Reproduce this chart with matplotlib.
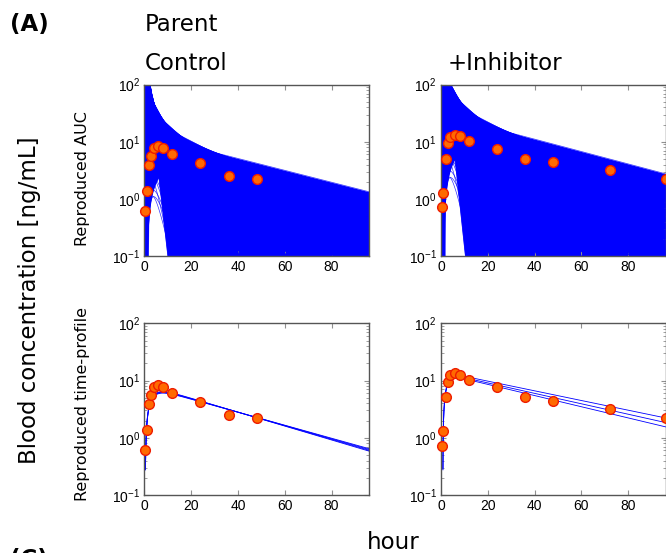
import numpy as np
import matplotlib
matplotlib.use("Agg")
import matplotlib.pyplot as plt
from matplotlib.collections import LineCollection

plt.rcParams['font.family'] = ['DejaVu Sans']
plt.rcParams['mathtext.fontset'] = 'custom'
plt.rcParams['mathtext.rm'] = 'Liberation Sans'
plt.rcParams['mathtext.it'] = 'Liberation Sans'

# observed concentrations (ng/mL)
t_ctrl = [0.5, 1, 2, 3, 4, 6, 8, 12, 24, 36, 48]
c_ctrl = [0.62, 1.39, 3.9, 5.6, 7.8, 8.5, 7.7, 6.0, 4.3, 2.5, 2.2]
t_inh = [0.5, 1, 2, 3, 4, 6, 8, 12, 24, 36, 48, 72, 96]
c_inh = [0.73, 1.29, 5.07, 9.4, 12.3, 13.3, 12.5, 10.2, 7.6, 5.07, 4.4, 3.16, 2.2]

# parameter sets reproducing the AUC (top row)
auc_ctrl = 490.0
auc_inh = 1060.0
ke_ctrl = [0.024, 0.026, 0.0282, 0.0306, 0.0331, 0.0359, 0.0389, 0.0422, 0.0457,
           0.0496, 0.0537, 0.0582, 0.0631, 0.0684, 0.0742, 0.0804, 0.0872, 0.0945,
           0.1024, 0.111, 0.1204, 0.1305, 0.1414, 0.1533, 0.1662, 0.1802, 0.1953,
           0.2117, 0.2295, 0.2488, 0.2697, 0.2924, 0.317, 0.3436, 0.3725, 0.4038,
           0.4377, 0.4745, 0.5144, 0.5576, 0.6045, 0.6553, 0.7104, 0.7701, 0.83]
ke_inh = [0.025, 0.026, 0.0282, 0.0306, 0.0331, 0.0359, 0.0389, 0.0422, 0.0457,
          0.0496, 0.0537, 0.0582, 0.0631, 0.0684, 0.0742, 0.0804, 0.0872, 0.0945,
          0.1024, 0.111, 0.1204, 0.1305, 0.1414, 0.1533, 0.1662, 0.1802, 0.1953,
          0.2117, 0.2295, 0.2488, 0.2697, 0.2924, 0.317, 0.3436, 0.3725, 0.4038,
          0.4377, 0.4745, 0.5144, 0.5576, 0.6045, 0.6553, 0.7104, 0.79, 0.88]
ka_fast = [0.2, 0.4, 0.75, 1.5, 3.5, 12.0, 40.0]
lag_fast = [0.0, 0.3, 0.6, 0.9, 1.2]
lag_frac = [1.0, 0.92, 0.85, 0.78, 0.7]
# slowly absorbed sets (lower exposure fraction)
slow_frac = 0.55
ka_slow = [0.045, 0.07, 0.11]
ke_slow = [0.05, 0.08, 0.13, 0.2, 0.3]
lag_slow = [0.0, 0.2, 0.4, 0.6, 0.8, 1.0, 1.2]
# a few stray low-exposure sets (lag, ka, ke, auc fraction)
stray_lag = [1.3, 1.5, 1.4, 1.6, 1.2, 1.8]
stray_ka = [0.35, 0.3, 0.4, 0.45, 0.5, 0.38]
stray_ke = [0.45, 0.5, 0.55, 0.6, 0.7, 0.48]
stray_frac = [0.02, 0.016, 0.028, 0.012, 0.022, 0.03]

# parameter sets reproducing the time-profile (bottom row)
fit_ctrl_B = [7.9, 8.1, 8.3, 8.5]
fit_ctrl_ke = [0.0262, 0.0268, 0.0274, 0.028]
fit_ctrl_ka = 0.38
fit_ctrl_lag = 0.4
fit_inh_B = [14.2, 13.6, 13.2]
fit_inh_ke = [0.0195, 0.021, 0.0225]
fit_inh_ka = 0.55
fit_inh_lag = 0.78

t = np.concatenate([np.linspace(0, 2, 401), np.linspace(2.02, 96, 500)])


def auc_curve(auc, ka, ke, lag):
    tau = np.clip(t - lag, 0, None)
    c = auc * ke * ka / (ka - ke) * (np.exp(-ke * tau) - np.exp(-ka * tau))
    return np.maximum(c, 1e-4)


def fit_curve(B, ka, ke, lag, t0):
    tt = t[t >= t0]
    tau = np.clip(tt - lag, 0, None)
    c = B * (np.exp(-ke * tau) - np.exp(-ka * tau))
    return tt, np.maximum(c, 1e-4)


def style_axes(ax):
    ax.set_yscale('log')
    ax.set_xlim(0, 96)
    ax.set_ylim(0.1, 100)
    ax.set_xticks([0, 20, 40, 60, 80])
    ax.set_xticklabels(['0', '20', '40', '60', '80'], family='Liberation Sans', fontsize=10)
    ax.set_yticks([0.1, 1, 10, 100])
    ax.set_yticklabels([r'$10^{-1}$', r'$10^{0}$', r'$10^{1}$', r'$10^{2}$'], fontsize=10)
    ax.tick_params(which='both', direction='in', top=True, right=True, color='#909090')
    ax.tick_params(which='major', length=3.5, pad=3)
    ax.tick_params(which='minor', length=2)
    for s in ax.spines.values():
        s.set_color('#555555')
        s.set_linewidth(1.0)


def plot_points(ax, tt, cc):
    ax.plot(tt, cc, 'o', ms=7, mfc='#ff6a00', mec='#ee1c00', mew=1.0, zorder=5, clip_on=False)


fig = plt.figure(figsize=(6.66, 5.53), dpi=100)
W, H = 666.0, 553.0
ax_w, ax_h = (369 - 144.3) / W, (256 - 84.7) / H
ax_tl = fig.add_axes([144.3 / W, 1 - 256 / H, ax_w, ax_h])
ax_tr = fig.add_axes([441 / W, 1 - 256 / H, ax_w, ax_h])
ax_bl = fig.add_axes([144.3 / W, 1 - 495 / H, ax_w, (495 - 323.3) / H])
ax_br = fig.add_axes([441 / W, 1 - 495 / H, ax_w, (495 - 323.3) / H])

for ax, auc, kes in [(ax_tl, auc_ctrl, ke_ctrl), (ax_tr, auc_inh, ke_inh)]:
    curves = []
    for lag, fr in zip(lag_fast, lag_frac):
        for ka in ka_fast:
            for ke in kes:
                if ka >= 8 * ke:
                    curves.append(auc_curve(auc * fr, ka, ke, lag))
    for lag in lag_slow:
        for ka in ka_slow:
            for ke in ke_slow:
                curves.append(auc_curve(auc * slow_frac, ka, ke, lag))
    curves = np.array(curves)
    # the dense bundle of simulated profiles
    ax.fill_between(t, curves.min(axis=0), curves.max(axis=0), color='#0000ff', lw=0)
    strays = [auc_curve(auc * fr, ka, ke, lag)
              for lag, ka, ke, fr in zip(stray_lag, stray_ka, stray_ke, stray_frac)]
    segs = [np.column_stack([t, c]) for c in list(curves) + strays]
    ax.add_collection(LineCollection(segs, colors='#0000ff', linewidths=0.5, alpha=0.8))

for B, ke in zip(fit_ctrl_B, fit_ctrl_ke):
    ax_bl.plot(*fit_curve(B, fit_ctrl_ka, ke, fit_ctrl_lag, 0.5), color='#0000ff', lw=0.6)
for B, ke in zip(fit_inh_B, fit_inh_ke):
    ax_br.plot(*fit_curve(B, fit_inh_ka, ke, fit_inh_lag, 0.82), color='#0000ff', lw=0.6)

for ax in [ax_tl, ax_bl]:
    plot_points(ax, t_ctrl, c_ctrl)
    style_axes(ax)
for ax in [ax_tr, ax_br]:
    plot_points(ax, t_inh, c_inh)
    style_axes(ax)

big = 16.5
fig.text(10 / W, 1 - 31 / H, '(A)', fontsize=big, fontweight='bold', va='baseline')
fig.text(145 / W, 1 - 31 / H, 'Parent', fontsize=big, va='baseline')
fig.text(145 / W, 1 - 69.5 / H, 'Control', fontsize=big, va='baseline')
fig.text(448 / W, 1 - 69.5 / H, '+Inhibitor', fontsize=big, va='baseline')
fig.text(30 / W, 1 - 300 / H, 'Blood concentration [ng/mL]', fontsize=big,
         rotation=90, ha='center', va='center')
fig.text(83 / W, 1 - 179 / H, 'Reproduced AUC', fontsize=11.5, rotation=90, ha='center', va='center')
fig.text(83 / W, 1 - 404 / H, 'Reproduced time-profile', fontsize=11.5, rotation=90,
         ha='center', va='center')
fig.text(393 / W, 1 - 549 / H, 'hour', fontsize=big, ha='center', va='baseline')
fig.text(10 / W, 1 - 548 / H, '(C)', fontsize=big, fontweight='bold', va='top')

fig.savefig('out.png', dpi=100)
